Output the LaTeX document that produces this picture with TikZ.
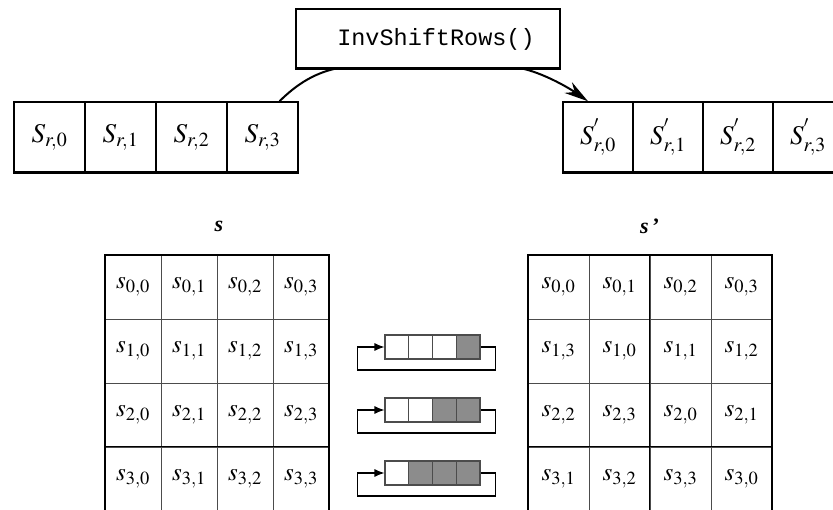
\documentclass[tikz,border=0pt]{standalone}
\usepackage{mathptmx}
\usepackage{fontspec}
\setmainfont{Liberation Serif}
\setmonofont{Liberation Mono}
\usetikzlibrary{arrows.meta,calc}
\begin{document}
\begin{tikzpicture}[x=1pt,y=-1pt,
  rowcell/.style={draw, line width=1.5pt, minimum width=71pt, minimum height=70pt, inner sep=0pt, font=\fontsize{27}{27}\selectfont},
  rowcellb/.style={rowcell, minimum width=70pt},
  mcell/.style={draw=black!70, line width=0.9pt, minimum height=64pt, inner sep=0pt, font=\fontsize{25}{25}\selectfont},
  lcell/.style={mcell, minimum width=56pt},
  rcell/.style={mcell, minimum width=61pt},
  scell/.style={draw=black!70, line width=1.1pt, minimum width=23.75pt, minimum height=24pt, inner sep=0pt},
  gcell/.style={scell, fill=black!45},
  loop/.style={line width=1.2pt, -{Latex[length=10pt,width=8pt]}},
  thick edge/.style={line width=2pt},
  conn/.style={line width=2pt},
  lbl/.style={font=\fontsize{22}{22}\selectfont\bfseries\itshape}
]
\clip (0,0) rectangle (833,510);
\fill[white] (0,0) rectangle (833,510);

% function box
\node[draw, line width=1.3pt, minimum width=264pt, minimum height=59pt, font=\ttfamily\fontsize{23.5}{23.5}\selectfont] (box) at (428,38.5) {};
\node[font=\ttfamily\fontsize{23.5}{23.5}\selectfont, anchor=base] (boxtext) at (436,46) {InvShiftRows()};
\draw[line width=2.5pt] (box.south west) -- (box.south east);

% top left row
\foreach \i in {0,1,2,3} {
  \node[rowcell] (l\i) at (49.5+71*\i,137) {$S_{r,\i}$};
}
\draw[line width=2.5pt] (l0.south west) -- (l3.south east);
% top right row
\foreach \i in {0,1,2,3} {
  \node[rowcellb] (r\i) at (598+70*\i,137) {$S^{'}_{r,\i}$};
}
\draw[line width=2.5pt] (r0.south west) -- (r3.south east);

% connectors
\coordinate (a1) at ($(l3.north)+(17,0)$);
\coordinate (a2) at ($(box.south west)+(40,0)$);
\coordinate (b1) at ($(box.south east)+(-38,0)$);
\coordinate (b2) at ($(r0.north)+(-10,0)$);
\draw[conn] (a1) .. controls (295,86) and (312,74) .. (a2);
\draw[conn, -{Stealth[length=24pt,width=13pt]}] (b1) .. controls (542,73) and (566,86) .. (b2);

% labels
\node[lbl] (ls) at (219,226) {s};
\node[lbl] (rs) at (650,226) {s\,\upshape{'}};

% left matrix
\foreach \r in {0,1,2,3} {
  \foreach \c in {0,1,2,3} {
    \node[lcell] (L\r\c) at (133+56*\c,287+64*\r) {$s_{\r,\c}$};
  }
}
\draw[thick edge] (L00.north west) rectangle (L33.south east);
\draw[line width=1.6pt] (L30.north west) -- (L33.north east);

% right matrix
\foreach \r/\a/\b/\cc/\d in {0/0/1/2/3, 1/3/0/1/2, 2/2/3/0/1, 3/1/2/3/0} {
  \foreach \c/\v in {0/\a,1/\b,2/\cc,3/\d} {
    \node[rcell] (R\r\c) at (558.5+61*\c,287+64*\r) {$s_{\r,\v}$};
  }
}
\draw[thick edge] (R00.north west) rectangle (R33.south east);
\draw[line width=1.6pt] (R30.north west) -- (R33.north east);
\draw[line width=1.6pt] (R02.north west) -- (R32.south west);

% shift diagrams
\foreach \k/\y/\n in {1/347/1, 2/410/2, 3/473/3} {
  \foreach \c in {0,1,2,3} {
    \pgfmathtruncatemacro{\g}{\c>=4-\n ? 1 : 0}
    \ifnum\g=1
      \node[gcell] (S\k\c) at (396.9+23.75*\c,\y) {};
    \else
      \node[scell] (S\k\c) at (396.9+23.75*\c,\y) {};
    \fi
  }
  \draw[loop] (S\k3.east) -- ++(15,0) -- ++(0,23) -| ($(S\k0.west)+(-27,0)$) -- (S\k0.west);
}
\end{tikzpicture}
\end{document}
